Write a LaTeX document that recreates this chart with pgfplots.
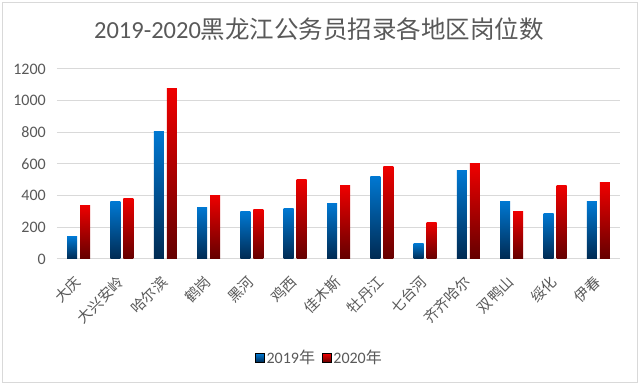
\documentclass[border=0pt]{standalone}
\usepackage{pgfplots}
\pgfplotsset{compat=1.18}
\usepackage{fontspec}
\setmainfont{Carlito}
\newfontfamily\cjk{Noto Sans CJK SC}
\definecolor{txt}{RGB}{89,89,89}
\definecolor{gridc}{RGB}{217,217,217}
\definecolor{btop}{RGB}{0,120,210}
\definecolor{bbot}{RGB}{0,42,82}
\definecolor{rtop}{RGB}{238,0,0}
\definecolor{rbot}{RGB}{100,0,0}
\newcommand{\barA}[2]{\addplot[forget plot, ybar, bar width=10pt, bar shift=-6.5pt, draw=none, top color=btop, bottom color=bbot] coordinates {(#1,#2)};}
\newcommand{\barB}[2]{\addplot[forget plot, ybar, bar width=10pt, bar shift=6.5pt, draw=none, top color=rtop, bottom color=rbot] coordinates {(#1,#2)};}
\begin{document}
\begin{tikzpicture}
\path[use as bounding box, fill=white] (0,0) rectangle (640pt,385pt);
\draw[gridc, line width=1pt] (2.5pt,2.5pt) rectangle (637pt,382.5pt);
\node[txt, font=\fontsize{24.5}{28}\selectfont] at (319pt,356pt) {2019-2020{\cjk 黑龙江公务员招录各地区岗位数}};
\begin{axis}[
  at={(57pt,126pt)}, anchor=south west,
  scale only axis, width=563pt, height=190pt,
  ymin=0, ymax=1200, ytick={0,200,...,1200},
  xmin=-0.5, xmax=12.5,
  xtick={0,...,12},
  xticklabels={大庆,大兴安岭,哈尔滨,鹤岗,黑河,鸡西,佳木斯,牡丹江,七台河,齐齐哈尔,双鸭山,绥化,伊春},
  axis line style={draw=none},
  tick style={draw=none},
  ymajorgrids, grid style={gridc, line width=1pt},
  /pgf/number format/assume math mode=true,
  /pgf/number format/1000 sep={},
  yticklabel style={font=\fontsize{16}{19}\selectfont, text=txt, inner sep=0pt, xshift=-11pt},
  xticklabel style={font=\cjk\fontsize{14.5}{17}\selectfont, text=txt, rotate=45, anchor=north east, inner sep=0pt, yshift=-7pt, xshift=-15pt},
  legend style={at={(0.5,-0.521)}, xshift=-19pt, anchor=center, draw=none, fill=none, legend columns=-1,
    font=\fontsize{16}{19}\selectfont, text=txt,
    /tikz/every even column/.append style={column sep=5pt}},
  legend image code/.code={\fill[#1] (0pt,-4.5pt) rectangle (9pt,4.5pt);},
]
\addlegendimage{top color=btop, bottom color=bbot}
\addlegendimage{top color=rtop, bottom color=rbot}
% 2019
\barA{0}{140}\barA{1}{360}\barA{2}{808}\barA{3}{328}\barA{4}{297}\barA{5}{318}\barA{6}{352}
\barA{7}{524}\barA{8}{99}\barA{9}{556}\barA{10}{366}\barA{11}{286}\barA{12}{360}
% 2020
\barB{0}{341}\barB{1}{383}\barB{2}{1076}\barB{3}{404}\barB{4}{312}\barB{5}{499}\barB{6}{463}
\barB{7}{583}\barB{8}{232}\barB{9}{600}\barB{10}{297}\barB{11}{463}\barB{12}{480}
\legend{2019{\cjk 年}, 2020{\cjk 年}}
\end{axis}
\end{tikzpicture}
\end{document}
